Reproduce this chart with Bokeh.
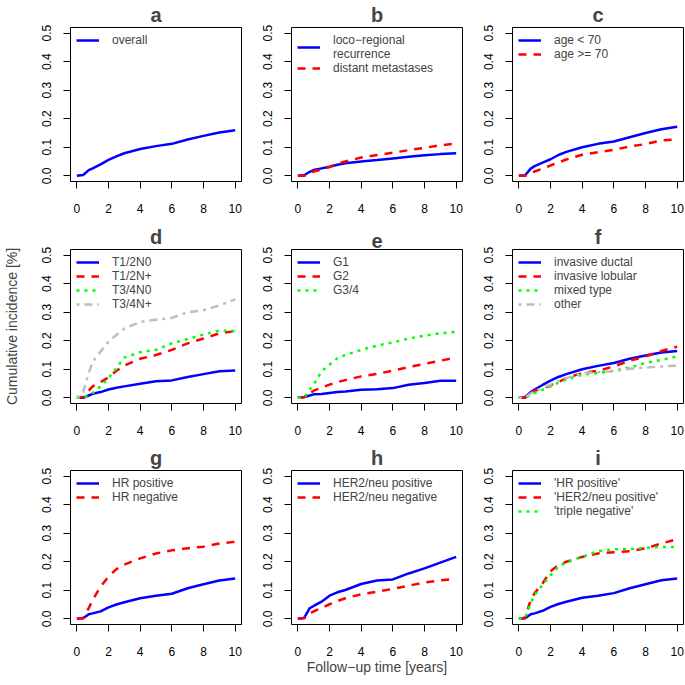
from bokeh.plotting import figure
from bokeh.layouts import gridplot
from bokeh.models import Range1d, FixedTicker, NumeralTickFormatter
from bokeh.embed import file_html
from bokeh.resources import INLINE

# follow-up times (years) at which the curves were read
T = [0, 0.4, 0.75, 1, 1.5, 2, 2.5, 3, 4, 5, 6, 7, 8, 9, 10]

a_overall = [0, 0.003, 0.020, 0.026, 0.040, 0.056, 0.068, 0.079, 0.094, 0.104, 0.112, 0.127, 0.140, 0.152, 0.160]

b_loco = [0, 0.002, 0.014, 0.020, 0.026, 0.032, 0.039, 0.044, 0.050, 0.055, 0.061, 0.067, 0.072, 0.076, 0.079]
b_distant = [0, 0.0, 0.008, 0.015, 0.022, 0.031, 0.043, 0.050, 0.064, 0.073, 0.081, 0.090, 0.098, 0.107, 0.113]

c_young = [0, 0.002, 0.025, 0.034, 0.046, 0.058, 0.073, 0.084, 0.100, 0.112, 0.120, 0.135, 0.150, 0.163, 0.172]
c_old = [0, 0.0, 0.010, 0.015, 0.025, 0.036, 0.047, 0.057, 0.074, 0.083, 0.091, 0.103, 0.111, 0.124, 0.128]

d_t12n0 = [0, 0.0, 0.008, 0.014, 0.020, 0.029, 0.035, 0.040, 0.049, 0.058, 0.061, 0.073, 0.083, 0.093, 0.096]
d_t12np = [0, 0.002, 0.025, 0.040, 0.055, 0.072, 0.095, 0.113, 0.137, 0.150, 0.168, 0.191, 0.208, 0.226, 0.234]
d_t34n0 = [0, 0.0, 0.010, 0.017, 0.040, 0.069, 0.104, 0.141, 0.160, 0.168, 0.191, 0.206, 0.222, 0.236, 0.234]
d_t34np = [0, 0.020, 0.087, 0.127, 0.162, 0.197, 0.220, 0.243, 0.266, 0.274, 0.280, 0.300, 0.307, 0.324, 0.345]

e_g1 = [0, 0.003, 0.008, 0.012, 0.013, 0.017, 0.020, 0.022, 0.028, 0.030, 0.034, 0.046, 0.052, 0.060, 0.060]
e_g2 = [0, 0.002, 0.015, 0.025, 0.036, 0.046, 0.055, 0.062, 0.075, 0.084, 0.095, 0.108, 0.119, 0.130, 0.141]
e_g34 = [0, 0.0, 0.029, 0.046, 0.093, 0.116, 0.139, 0.150, 0.168, 0.183, 0.194, 0.208, 0.218, 0.226, 0.231]

f_ductal = [0, 0.002, 0.020, 0.029, 0.045, 0.060, 0.073, 0.083, 0.100, 0.112, 0.122, 0.137, 0.148, 0.159, 0.164]
f_lobular = [0, 0.0, 0.018, 0.025, 0.032, 0.044, 0.055, 0.069, 0.087, 0.095, 0.110, 0.130, 0.145, 0.164, 0.179]
f_mixed = [0, 0.0, 0.010, 0.017, 0.028, 0.040, 0.053, 0.064, 0.081, 0.087, 0.095, 0.106, 0.122, 0.133, 0.145]
f_other = [0, 0.0, 0.015, 0.023, 0.035, 0.046, 0.058, 0.069, 0.086, 0.090, 0.093, 0.102, 0.106, 0.110, 0.113]

g_hrpos = [0, 0.002, 0.016, 0.019, 0.026, 0.040, 0.050, 0.058, 0.072, 0.081, 0.088, 0.107, 0.121, 0.134, 0.141]
g_hrneg = [0, 0.003, 0.037, 0.066, 0.113, 0.148, 0.174, 0.190, 0.212, 0.229, 0.240, 0.247, 0.253, 0.264, 0.270]

h_her2pos = [0, 0.003, 0.037, 0.045, 0.060, 0.081, 0.093, 0.101, 0.122, 0.134, 0.138, 0.159, 0.177, 0.197, 0.217]
h_her2neg = [0, 0.002, 0.018, 0.026, 0.038, 0.051, 0.062, 0.072, 0.086, 0.095, 0.105, 0.116, 0.127, 0.135, 0.140]

i_hrpos = [0, 0.002, 0.016, 0.019, 0.028, 0.042, 0.052, 0.060, 0.074, 0.081, 0.090, 0.107, 0.121, 0.135, 0.141]
i_her2pos = [0, 0.004, 0.066, 0.090, 0.124, 0.167, 0.188, 0.200, 0.217, 0.229, 0.233, 0.237, 0.247, 0.264, 0.279]
i_triple = [0, 0.003, 0.055, 0.084, 0.119, 0.153, 0.183, 0.198, 0.217, 0.237, 0.244, 0.244, 0.249, 0.252, 0.252]

X_TICKS = [0, 2, 4, 6, 8, 10]
Y_TICKS = [0, 0.1, 0.2, 0.3, 0.4, 0.5]

BLUE, RED, GREEN, GREY = "#0000FF", "#FF0000", "#00FF00", "#BEBEBE"
SOLID, DASHED, DOTTED, DOTDASH = "solid", "8 7", "3 5", "3 5 8 5"
FONT = "Liberation Sans"

panels = [
    ("a", [("overall", a_overall, BLUE, SOLID)]),
    ("b", [("loco\u2212regional\nrecurrence", b_loco, BLUE, SOLID),
           ("distant metastases", b_distant, RED, DASHED)]),
    ("c", [("age < 70", c_young, BLUE, SOLID),
           ("age >= 70", c_old, RED, DASHED)]),
    ("d", [("T1/2N0", d_t12n0, BLUE, SOLID),
           ("T1/2N+", d_t12np, RED, DASHED),
           ("T3/4N0", d_t34n0, GREEN, DOTTED),
           ("T3/4N+", d_t34np, GREY, DOTDASH)]),
    ("e", [("G1", e_g1, BLUE, SOLID),
           ("G2", e_g2, RED, DASHED),
           ("G3/4", e_g34, GREEN, DOTTED)]),
    ("f", [("invasive ductal", f_ductal, BLUE, SOLID),
           ("invasive lobular", f_lobular, RED, DASHED),
           ("mixed type", f_mixed, GREEN, DOTTED),
           ("other", f_other, GREY, DOTDASH)]),
    ("g", [("HR positive", g_hrpos, BLUE, SOLID),
           ("HR negative", g_hrneg, RED, DASHED)]),
    ("h", [("HER2/neu positive", h_her2pos, BLUE, SOLID),
           ("HER2/neu negative", h_her2neg, RED, DASHED)]),
    ("i", [("'HR positive'", i_hrpos, BLUE, SOLID),
           ("'HER2/neu positive'", i_her2pos, RED, DASHED),
           ("'triple negative'", i_triple, GREEN, DOTTED)]),
]

WIDTHS = [242, 221, 221]
LEFTS = [70, 49, 49]
HEIGHTS = [222, 221, 241]
BOTTOMS = [41, 40, 60]

figs = []
for k, (letter, series) in enumerate(panels):
    row, col = divmod(k, 3)
    p = figure(width=WIDTHS[col], height=HEIGHTS[row],
               x_range=Range1d(-0.4, 10.4), y_range=Range1d(-0.02, 0.52),
               output_backend="svg", toolbar_location=None,
               min_border_left=LEFTS[col], min_border_right=1,
               min_border_top=25, min_border_bottom=BOTTOMS[row],
               title=letter)
    p.title.align = "center"
    p.title.text_font = FONT
    p.title.text_font_size = "20px"
    p.title.text_font_style = "bold"
    p.title.standoff = 3
    p.xgrid.visible = False
    p.ygrid.visible = False
    p.outline_line_color = "black"
    p.outline_line_width = 1
    p.outline_line_alpha = 1
    p.background_fill_color = "white"

    for ax in (p.xaxis[0], p.yaxis[0]):
        ax.axis_line_color = None
        ax.major_tick_in = 0
        ax.major_tick_out = 7
        ax.major_tick_line_color = "black"
        ax.minor_tick_line_color = None
        ax.major_label_text_font = FONT
        ax.major_label_text_font_size = "12px"
        ax.major_label_text_color = "black"
    p.xaxis.ticker = FixedTicker(ticks=X_TICKS)
    p.yaxis.ticker = FixedTicker(ticks=Y_TICKS)
    p.yaxis.formatter = NumeralTickFormatter(format="0.0")
    p.yaxis.major_label_orientation = "vertical"
    p.xaxis.major_label_standoff = 15
    p.yaxis.major_label_standoff = 12

    for label, ys, color, dash in series:
        p.line(T, ys, line_color=color, line_width=2.5, line_dash=dash,
               legend_label=label)

    lg = p.legend[0]
    lg.location = "top_left"
    lg.border_line_color = None
    lg.background_fill_alpha = 0
    lg.label_text_font = FONT
    lg.label_text_font_size = "12px"
    lg.glyph_width = 23
    lg.glyph_height = 14
    lg.label_height = 14
    lg.spacing = 0
    lg.padding = 5
    lg.margin = 6
    lg.label_standoff = 13

    if letter == "d":
        p.yaxis.axis_label = "Cumulative incidence [%]"
        p.yaxis.axis_label_text_font = FONT
        p.yaxis.axis_label_text_font_size = "14px"
        p.yaxis.axis_label_text_font_style = "normal"
        p.yaxis.axis_label_standoff = 20
    if letter == "h":
        p.xaxis.axis_label = "Follow\u2212up time [years]"
        p.xaxis.axis_label_text_font = FONT
        p.xaxis.axis_label_text_font_size = "14px"
        p.xaxis.axis_label_text_font_style = "normal"
        p.xaxis.axis_label_standoff = 0
    figs.append(p)

grid = gridplot([figs[0:3], figs[3:6], figs[6:9]], toolbar_location=None)

open("out.html", "w").write(file_html(grid, INLINE))
